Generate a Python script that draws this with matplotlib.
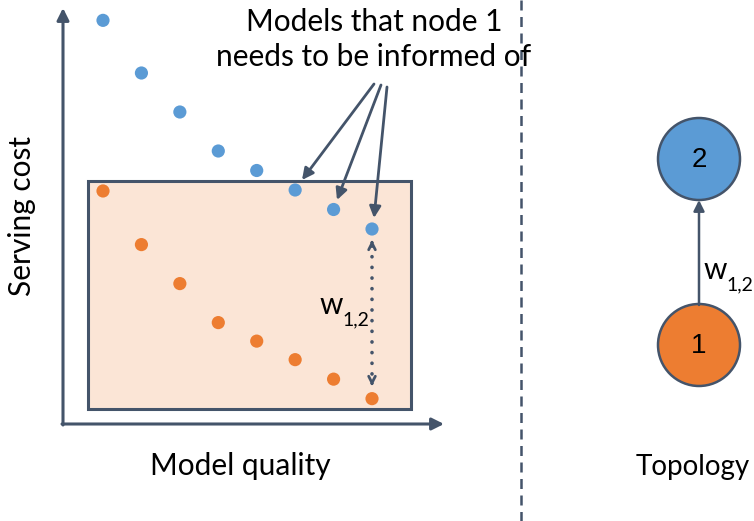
import matplotlib
matplotlib.use("Agg")
import matplotlib.pyplot as plt
from matplotlib.patches import Rectangle, Circle

# ---- data (abstract units) ----
quality = [1, 2, 3, 4, 5, 6, 7, 8]
cost_node2 = [20.7, 18.0, 16.0, 14.0, 13.0, 12.0, 11.0, 10.0]   # blue models
cost_node1 = [11.95, 9.2, 7.2, 5.2, 4.25, 3.3, 2.3, 1.3]         # orange models
node_labels = ["1", "2"]

BLUE = "#5B9BD5"
ORANGE = "#ED7D31"
DARK = "#44546A"
FILL = "#FBE5D6"
FONT = ["Lato", "DejaVu Sans"]
FS = 21.5

W, H = 754, 521
fig = plt.figure(figsize=(W / 100, H / 100), dpi=100)

# pixel overlay axes for the diagram decoration
pax = fig.add_axes([0, 0, 1, 1])
pax.set_xlim(0, W)
pax.set_ylim(H, 0)
pax.axis("off")

# data axes for the scatter (mapped so the plot area lines up)
dax = fig.add_axes([0, 0, 1, 1], facecolor="none")
px_per_q = 38.43
px_per_c = 19.5
x0_px, y0_px = 103, 424
dax.set_xlim(1 - x0_px / px_per_q, 1 + (W - x0_px) / px_per_q)
dax.set_ylim(-(H - y0_px) / px_per_c, y0_px / px_per_c)
dax.axis("off")

# shaded box
pax.add_patch(Rectangle((88, 181), 323, 228, facecolor=FILL, edgecolor=DARK,
                        lw=2.2, zorder=1))

# axes arrows
arr = dict(arrowstyle="-|>", color=DARK, lw=2.2, mutation_scale=18,
           shrinkA=0, shrinkB=0)
pax.annotate("", xy=(63, 8), xytext=(63, 425), arrowprops=arr, zorder=2)
pax.annotate("", xy=(444, 424), xytext=(62, 424), arrowprops=arr, zorder=2)

# points
dax.scatter(quality, cost_node2, s=90, color=BLUE, edgecolors="none", zorder=5)
dax.scatter(quality, cost_node1, s=90, color=ORANGE, edgecolors="none", zorder=5)

# callout text and arrows
pax.text(374, 22, "Models that node 1", ha="center", va="center",
         fontsize=FS, family=FONT, color="black")
pax.text(374, 57, "needs to be informed of", ha="center", va="center",
         fontsize=FS, family=FONT, color="black")
carr = dict(arrowstyle="-|>", color=DARK, lw=2, mutation_scale=17,
            shrinkA=0, shrinkB=0)
pax.annotate("", xy=(302, 180), xytext=(374, 84), arrowprops=carr, zorder=6)
pax.annotate("", xy=(337, 200), xytext=(381, 85), arrowprops=carr, zorder=6)
pax.annotate("", xy=(374, 218), xytext=(387, 87), arrowprops=carr, zorder=6)

# dotted double arrow w_{1,2}
pax.plot([372, 372], [246, 380], color=DARK, lw=2.6,
         linestyle=(0, (0.05, 2.9)), dash_capstyle="round", zorder=6)
harr = dict(arrowstyle="->", color=DARK, lw=2, mutation_scale=12,
            shrinkA=0, shrinkB=0)
pax.annotate("", xy=(372, 240), xytext=(372, 243), arrowprops=harr, zorder=6)
pax.annotate("", xy=(372, 386), xytext=(372, 383), arrowprops=harr, zorder=6)
pax.text(331, 305, "w", ha="center", va="center", fontsize=FS, family=FONT)
pax.text(356, 320, "1,2", ha="center", va="center", fontsize=14, family=FONT)

# axis labels
pax.text(240, 466, "Model quality", ha="center", va="center", fontsize=FS,
         family=FONT)
pax.text(22, 216, "Serving cost", ha="center", va="center", fontsize=FS,
         family=FONT, rotation=90)

# divider
pax.plot([521, 521], [0, H], color=DARK, lw=1.8, linestyle=(0, (4, 2.6)))

# topology
node_xy = {"1": (699, 345), "2": (699, 159)}
node_col = {"1": ORANGE, "2": BLUE}
for lab in node_labels:
    cx, cy = node_xy[lab]
    pax.add_patch(Circle((cx, cy), 41, facecolor=node_col[lab], edgecolor=DARK,
                         lw=1.8, zorder=3))
    pax.text(cx, cy + 1, lab, ha="center", va="center", fontsize=20,
             family=["Liberation Sans", "DejaVu Sans"], zorder=4)
pax.annotate("", xy=(699, 200), xytext=(699, 305),
             arrowprops=dict(arrowstyle="-|>", color=DARK, lw=1.8,
                             mutation_scale=16, shrinkA=0, shrinkB=0))
pax.text(715, 270, "w", ha="center", va="center", fontsize=FS, family=FONT)
pax.text(740, 285, "1,2", ha="center", va="center", fontsize=14, family=FONT)
pax.text(693, 467, "Topology", ha="center", va="center", fontsize=20,
         family=FONT)

fig.savefig("out.png", dpi=100)
